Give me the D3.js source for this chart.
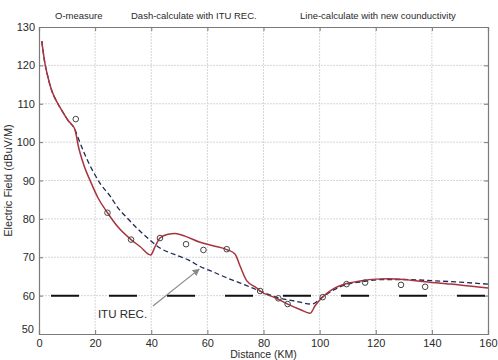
<!DOCTYPE html>
<html>
<head>
<meta charset="utf-8">
<script src="https://cdn.jsdelivr.net/npm/d3@7"></script>
<style>
  body { margin: 0; background: #fff; }
  text { font-family: "Liberation Sans", Arial, sans-serif; fill: #2a2a2a; }
  .tick text { font-size: 11px; }
  .legend-text { font-size: 9.5px; }
</style>
</head>
<body>
<svg id="chart" width="498" height="360"></svg>
<script>
// distance (km) / field (dBuV/M)
const measureKm = [13.1, 24.4, 32.8, 43.1, 52.4, 58.6, 66.9, 78.8, 85.3, 88.6, 101.1, 109.6, 116.2, 129, 137.6]
const measureDb = [106, 81.6, 74.6, 75, 73.4, 71.9, 72.1, 61.2, 59.3, 57.8, 59.6, 63, 63.4, 62.8, 62.3]

const ituKm = [1, 2, 3, 4.5, 6, 8.1, 10.5, 12.8, 14, 16.5, 19.4, 22, 25.3, 28, 31.2, 35, 38.4, 43.1, 48, 53.2, 57.4, 62, 67, 72, 76, 78.8, 85.3, 91, 97.2, 101, 105, 109.6, 116, 122, 130, 140, 150, 160]
const ituDb = [126.3, 121, 117.5, 113.5, 111, 108.3, 105.5, 103.3, 101, 96.5, 92.2, 89, 86, 83, 80.4, 77.5, 75.2, 72.4, 70.8, 69.3, 67.6, 66.2, 64.6, 63.2, 62, 61.2, 59.4, 58.6, 57.8, 59.6, 61.5, 62.9, 63.7, 64.2, 64.2, 63.9, 63.5, 63.0]

const newKm = [1, 2, 3, 4.5, 6, 8.1, 10.5, 12.8, 14, 16, 18.5, 21, 24.4, 28, 32.8, 36, 39.8, 41.5, 43.1, 46, 48.5, 52, 57.4, 62, 66.9, 69.9, 71.6, 74, 77.6, 78.8, 84, 88.6, 93, 96.6, 98.5, 101, 104, 107, 110, 115, 120, 124.4, 130, 135, 140, 145, 150, 155, 160]
const newDb = [126.3, 121, 117.5, 113.5, 111, 108.3, 105.5, 103.3, 99, 94, 89.5, 85.5, 81.6, 78, 74.6, 72.8, 70.6, 73, 75, 76, 76.2, 75.5, 73.9, 73, 72, 70.8, 67.8, 63.9, 62, 61.2, 59.5, 57.8, 56.4, 55.4, 57.5, 59.6, 61.4, 62.5, 63.2, 63.9, 64.3, 64.4, 64.2, 63.8, 63.4, 63.1, 62.8, 62.4, 62.0]

const refLevel = 60
const xTicks = [0, 20, 40, 60, 80, 100, 120, 140, 160]
const yTicks = [50, 60, 70, 80, 90, 100, 110, 120, 130]

const svg = d3.select("#chart")
const width = +svg.attr('width')
const height = +svg.attr('height')

const render = () => {
    const margin = { top: 27, right: 10, bottom: 26, left: 39 }
    const innerWidth = width - margin.left - margin.right
    const innerHeight = height - margin.top - margin.bottom

    const xScale = d3.scaleLinear().domain([0, 160]).range([0, innerWidth])
    const yScale = d3.scaleLinear().domain([50, 130]).range([innerHeight, 0])

    const g = svg.append('g')
        .attr('transform', `translate(${margin.left},${margin.top})`)

    // grid
    g.append('g').selectAll('line').data(xTicks.slice(1, -1)).enter().append('line')
        .attr('x1', d => xScale(d)).attr('x2', d => xScale(d))
        .attr('y1', 0).attr('y2', innerHeight)
        .attr('stroke', '#d6d6d6').attr('stroke-dasharray', '2,1')
    g.append('g').selectAll('line').data(yTicks.slice(1, -1)).enter().append('line')
        .attr('y1', d => yScale(d)).attr('y2', d => yScale(d))
        .attr('x1', 0).attr('x2', innerWidth)
        .attr('stroke', '#d6d6d6').attr('stroke-dasharray', '2,1')

    // axes, ticks inside like matlab
    const xAxisG = g.append('g').call(d3.axisBottom(xScale).tickValues(xTicks).tickSize(-4).tickPadding(4))
        .attr('transform', `translate(0,${innerHeight})`)
    const yAxisG = g.append('g').call(d3.axisLeft(yScale).tickValues(yTicks).tickSize(-4).tickPadding(4))
    g.append('g').call(d3.axisTop(xScale).tickValues(xTicks).tickSize(-4).tickFormat(''))
    g.append('g').call(d3.axisRight(yScale).tickValues(yTicks).tickSize(-4).tickFormat(''))
        .attr('transform', `translate(${innerWidth},0)`)
    g.selectAll('.domain').attr('stroke', '#7a7a7a').attr('stroke-width', 1.2)
    g.selectAll('.tick line').attr('stroke', '#7a7a7a')
    g.selectAll('.tick text').attr('fill', '#2a2a2a')
    yAxisG.selectAll('.tick text').filter(d => d === 50).attr('dy', '-0.1em').attr('dx', '-0.1em')
    xAxisG.selectAll('.tick text').attr('dy', '0.8em')

    // labels
    g.append('text')
        .attr('x', innerWidth / 2).attr('y', innerHeight + 24)
        .attr('text-anchor', 'middle').style('font-size', '10.5px')
        .text('Distance (KM)')
    g.append('text')
        .attr('transform', `rotate(-90)`)
        .attr('x', -innerHeight / 2).attr('y', -27)
        .attr('text-anchor', 'middle').style('font-size', '11px')
        .text('Electric Field (dBuV/M)')

    // legend texts above plot
    const legend = [
        { x: 55, text: 'O-measure' },
        { x: 131, text: 'Dash-calculate with ITU REC.' },
        { x: 300, text: 'Line-calculate with new counductivity' }
    ]
    svg.selectAll('.legend-text').data(legend).enter().append('text')
        .attr('class', 'legend-text')
        .attr('x', d => d.x).attr('y', 19)
        .text(d => d.text)

    // 60 dB reference line
    g.append('line')
        .attr('x1', xScale(0)).attr('x2', xScale(160))
        .attr('y1', yScale(refLevel)).attr('y2', yScale(refLevel))
        .attr('stroke', '#111').attr('stroke-width', 2)
        .attr('stroke-dasharray', '28,30').attr('stroke-dashoffset', 46)

    const lineGenerator = d3.line()
        .x(d => xScale(d[0]))
        .y(d => yScale(d[1]))
        .curve(d3.curveMonotoneX)

    g.append('path')
        .attr('d', lineGenerator(d3.zip(ituKm, ituDb)))
        .attr('fill', 'none').attr('stroke', '#1e2a55')
        .attr('stroke-width', 1.3).attr('stroke-dasharray', '5,3')

    g.append('path')
        .attr('d', lineGenerator(d3.zip(newKm, newDb)))
        .attr('fill', 'none').attr('stroke', '#a8333f')
        .attr('stroke-width', 1.5)

    g.selectAll('circle')
        .data(d3.zip(measureKm, measureDb))
        .enter()
        .append('circle')
        .attr('cx', d => xScale(d[0]))
        .attr('cy', d => yScale(d[1]))
        .attr('r', 2.8)
        .attr('fill', 'none').attr('stroke', '#444').attr('stroke-width', 1)

    // ITU REC. annotation with arrow
    svg.append('defs').append('marker')
        .attr('id', 'arrow').attr('viewBox', '0 0 10 10')
        .attr('refX', 9).attr('refY', 5)
        .attr('markerWidth', 6).attr('markerHeight', 6)
        .attr('orient', 'auto')
        .append('path').attr('d', 'M0,0 L10,5 L0,10 z').attr('fill', '#8a8a8a')
    g.append('line')
        .attr('x1', xScale(40.6)).attr('y1', yScale(57.3))
        .attr('x2', xScale(57.1)).attr('y2', yScale(66.9))
        .attr('stroke', '#8a8a8a').attr('stroke-width', 1.2)
        .attr('marker-end', 'url(#arrow)')
    g.append('text')
        .attr('x', xScale(21)).attr('y', yScale(55.3))
        .attr('dy', '0.35em').style('font-size', '11.5px')
        .text('ITU REC.')
}

render()
</script>
</body>
</html>
